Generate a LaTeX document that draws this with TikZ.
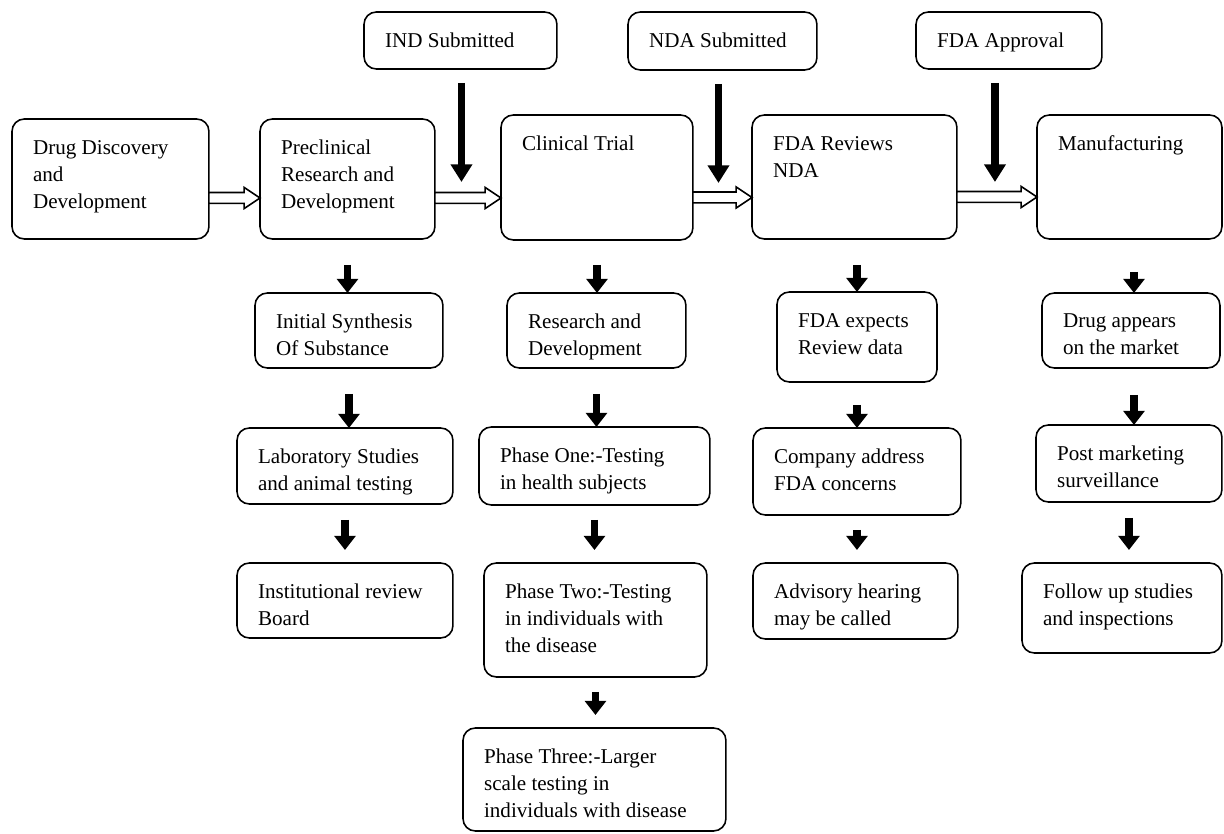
\documentclass[tikz,border=0pt]{standalone}
\usepackage{fontspec}
\setmainfont{Liberation Serif}
\usepackage{tikz}
\usetikzlibrary{arrows.meta,calc,positioning}
\tikzset{
  stage/.style={draw,line width=.9pt,rounded corners=7pt,fill=white,anchor=north west,
    inner sep=12pt,outer sep=0pt,font=\fontsize{12}{15.4}\selectfont},
  boxsize/.style 2 args={execute at begin node={\begin{minipage}[t][\dimexpr.569pt*#2-24pt\relax][t]{\dimexpr.569pt*#1-24pt\relax}\raggedright},
    execute at end node={\end{minipage}}},
  flow/.style={line width=4.3pt,-{Triangle[width=11.8pt,length=8pt]}},
  gate/.style={line width=4.5pt,-{Triangle[width=11.8pt,length=10pt]}},
  pass/.style={draw,line width=.9pt,fill=white,to path={let \p1=(\tikztostart),\p2=(\tikztotarget) in
    (\x1,\y1+3.1pt) -- (\x2-9pt,\y1+3.1pt) -- (\x2-9pt,\y1+6pt) -- (\x2,\y1)
    -- (\x2-9pt,\y1-6pt) -- (\x2-9pt,\y1-3.1pt) -- (\x1,\y1-3.1pt) -- cycle}}
}
\begin{document}
\begin{tikzpicture}[x=0.02cm,y=-0.02cm]
  \useasboundingbox (0,0) rectangle (1224,834);
  % submissions
  \node[stage,boxsize={193}{57}] (ind) at (364,12) {IND Submitted};
  \node[stage,boxsize={189}{58}] (nda) at (628,12) {NDA Submitted};
  \node[stage,boxsize={186}{57}] (appr) at (916,12) {FDA Approval};
  % main stages
  \node[stage,boxsize={197}{120}] (disc) at (12,119) {Drug Discovery\\and\\Development};
  \node[stage,boxsize={175}{120}] (precl) at (260,119) {Preclinical\\Research and\\Development};
  \node[stage,boxsize={192}{125}] (clin) at (501,115) {Clinical Trial};
  \node[stage,boxsize={205}{124}] (rev) at (752,115) {FDA Reviews\\NDA};
  \node[stage,boxsize={185}{124}] (manu) at (1037,115) {Manufacturing};
  % second row
  \node[stage,boxsize={188}{75}] (synth) at (255,293) {Initial Synthesis\\Of Substance};
  \node[stage,boxsize={179}{75}] (rnd) at (507,293) {Research and\\Development};
  \node[stage,boxsize={160}{90}] (expect) at (777,292) {FDA expects\\Review data};
  \node[stage,boxsize={178}{75}] (market) at (1042,293) {Drug appears\\on the market};
  % third row
  \node[stage,boxsize={216}{76}] (lab) at (237,428) {Laboratory Studies\\and animal testing};
  \node[stage,boxsize={231}{78}] (ph1) at (479,427) {Phase One:-Testing\\in health subjects};
  \node[stage,boxsize={208}{87}] (comp) at (753,428) {Company address\\FDA concerns};
  \node[stage,boxsize={186}{77}] (post) at (1036,425) {Post marketing\\surveillance};
  % fourth row
  \node[stage,boxsize={216}{75}] (irb) at (237,563) {Institutional review\\Board};
  \node[stage,boxsize={223}{114}] (ph2) at (484,563) {Phase Two:-Testing\\in individuals with\\the disease};
  \node[stage,boxsize={205}{76}] (adv) at (753,563) {Advisory hearing\\may be called};
  \node[stage,boxsize={200}{90}] (follow) at (1022,563) {Follow up studies\\and inspections};
  \node[stage,boxsize={263}{103}] (ph3) at (463,728) {Phase Three:-Larger\\scale testing in\\individuals with disease};
  % hollow arrows
  \draw[pass] ($(disc.east)+(0,19)$) to (precl.west);
  \draw[pass] ($(precl.east)+(0,19)$) to (clin.west);
  \draw[pass] ($(clin.east)+(0,20)$) to (rev.west);
  \draw[pass] ($(rev.east)+(0,20)$) to (manu.west);
  % submissions
  \draw[gate] ($(ind.south)+(1,14)$) -- ($(ind.south)+(1,113)$);
  \draw[gate] ($(nda.south)+(-4,14)$) -- ($(nda.south)+(-4,113)$);
  \draw[gate] ($(appr.south)+(-14,14)$) -- ($(appr.south)+(-14,113)$);
  % columns
  \draw[flow] ($(precl.south)+(0,26)$) -- (precl.south |- synth.north);
  \draw[flow] ($(synth.south)+(0,26)$) -- (synth.south |- lab.north);
  \draw[flow] ($(lab.south)+(0,16)$) -- ($(irb.north)+(0,-13)$);
  \draw[flow] ($(clin.south)+(0,25)$) -- (clin.south |- rnd.north);
  \draw[flow] ($(rnd.south)+(0,26)$) -- (rnd.south |- ph1.north);
  \draw[flow] ($(ph1.south)+(0,15)$) -- ($(ph1.south |- ph2.north)+(0,-13)$);
  \draw[flow] ($(ph2.south)+(0,15)$) -- ($(ph2.south |- ph3.north)+(0,-13)$);
  \draw[flow] ($(expect.north)+(0,-27)$) -- (expect.north);
  \draw[flow] ($(expect.south)+(0,23)$) -- (expect.south |- comp.north);
  \draw[flow] ($(comp.south)+(0,15)$) -- ($(comp.south |- adv.north)+(0,-13)$);
  \draw[flow] ($(market.north)+(3,-21)$) -- ($(market.north)+(3,0)$);
  \draw[flow] ($(market.south)+(3,27)$) -- ($(market.south |- post.north)+(3,0)$);
  \draw[flow] ($(post.south)+(0,16)$) -- ($(post.south |- follow.north)+(0,-13)$);
\end{tikzpicture}
\end{document}
